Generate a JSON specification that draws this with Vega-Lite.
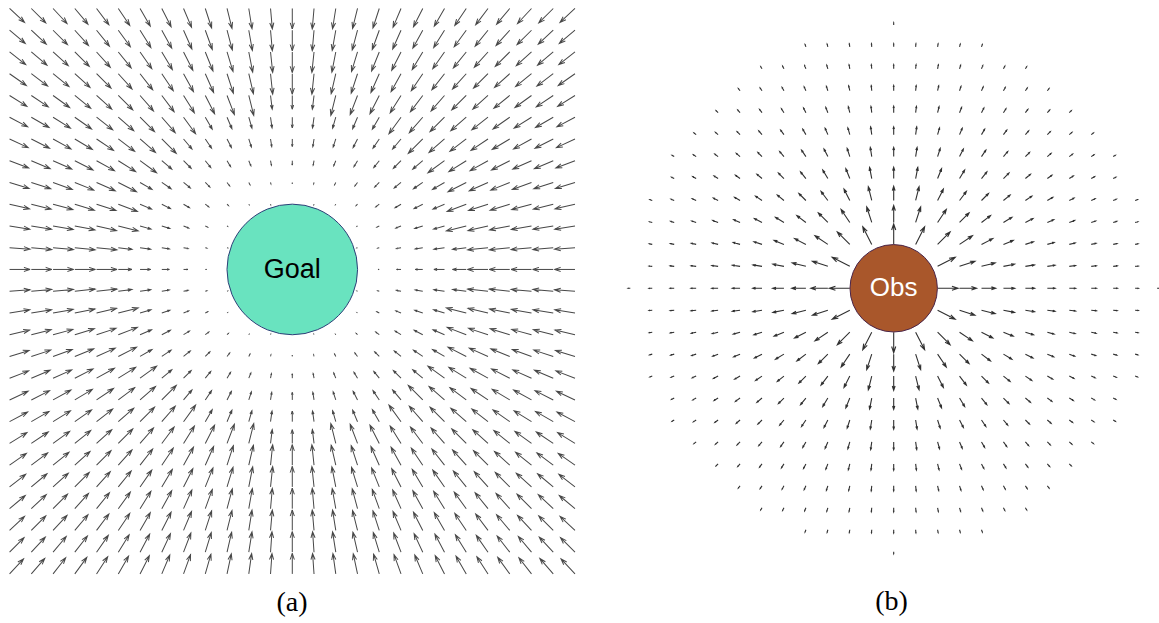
{
"$schema":"https://vega.github.io/schema/vega-lite/v6.json",
"padding":0,
"spacing":20,
"background":"white",
"config":{"view":{"stroke":null}},
"datasets":{
"g":[
{"x":-13,"y":-12,"a":43},{"x":-12,"y":-12,"a":45},{"x":-11,"y":-12,"a":47},{"x":-10,"y":-12,"a":50},{"x":-9,"y":-12,"a":53},{"x":-8,"y":-12,"a":56},{"x":-7,"y":-12,"a":60},{"x":-6,"y":-12,"a":63},{"x":-5,"y":-12,"a":67},{"x":-4,"y":-12,"a":72},{"x":-3,"y":-12,"a":76},{"x":-2,"y":-12,"a":81},{"x":-1,"y":-12,"a":85},{"x":0,"y":-12,"a":90},{"x":1,"y":-12,"a":95},{"x":2,"y":-12,"a":99},{"x":3,"y":-12,"a":104},{"x":4,"y":-12,"a":108},{"x":5,"y":-12,"a":113},{"x":6,"y":-12,"a":117},{"x":7,"y":-12,"a":120},{"x":8,"y":-12,"a":124},{"x":9,"y":-12,"a":127},{"x":10,"y":-12,"a":130},{"x":11,"y":-12,"a":133},{"x":12,"y":-12,"a":135},{"x":13,"y":-12,"a":137},
{"x":-13,"y":-11,"a":40},{"x":-12,"y":-11,"a":43},{"x":-11,"y":-11,"a":45},{"x":-10,"y":-11,"a":48},{"x":-9,"y":-11,"a":51},{"x":-8,"y":-11,"a":54},{"x":-7,"y":-11,"a":58},{"x":-6,"y":-11,"a":61},{"x":-5,"y":-11,"a":66},{"x":-4,"y":-11,"a":70},{"x":-3,"y":-11,"a":75},{"x":-2,"y":-11,"a":80},{"x":-1,"y":-11,"a":85},{"x":0,"y":-11,"a":90},{"x":1,"y":-11,"a":95},{"x":2,"y":-11,"a":100},{"x":3,"y":-11,"a":105},{"x":4,"y":-11,"a":110},{"x":5,"y":-11,"a":114},{"x":6,"y":-11,"a":119},{"x":7,"y":-11,"a":122},{"x":8,"y":-11,"a":126},{"x":9,"y":-11,"a":129},{"x":10,"y":-11,"a":132},{"x":11,"y":-11,"a":135},{"x":12,"y":-11,"a":137},{"x":13,"y":-11,"a":140},
{"x":-13,"y":-10,"a":38},{"x":-12,"y":-10,"a":40},{"x":-11,"y":-10,"a":42},{"x":-10,"y":-10,"a":45},{"x":-9,"y":-10,"a":48},{"x":-8,"y":-10,"a":51},{"x":-7,"y":-10,"a":55},{"x":-6,"y":-10,"a":59},{"x":-5,"y":-10,"a":63},{"x":-4,"y":-10,"a":68},{"x":-3,"y":-10,"a":73},{"x":-2,"y":-10,"a":79},{"x":-1,"y":-10,"a":84},{"x":0,"y":-10,"a":90},{"x":1,"y":-10,"a":96},{"x":2,"y":-10,"a":101},{"x":3,"y":-10,"a":107},{"x":4,"y":-10,"a":112},{"x":5,"y":-10,"a":117},{"x":6,"y":-10,"a":121},{"x":7,"y":-10,"a":125},{"x":8,"y":-10,"a":129},{"x":9,"y":-10,"a":132},{"x":10,"y":-10,"a":135},{"x":11,"y":-10,"a":138},{"x":12,"y":-10,"a":140},{"x":13,"y":-10,"a":142},
{"x":-13,"y":-9,"a":35},{"x":-12,"y":-9,"a":37},{"x":-11,"y":-9,"a":39},{"x":-10,"y":-9,"a":42},{"x":-9,"y":-9,"a":45},{"x":-8,"y":-9,"a":48},{"x":-7,"y":-9,"a":52},{"x":-6,"y":-9,"a":56},{"x":-5,"y":-9,"a":61},{"x":-4,"y":-9,"a":66},{"x":-3,"y":-9,"a":72},{"x":-2,"y":-9,"a":77},{"x":-1,"y":-9,"a":84},{"x":0,"y":-9,"a":90},{"x":1,"y":-9,"a":96},{"x":2,"y":-9,"a":103},{"x":3,"y":-9,"a":108},{"x":4,"y":-9,"a":114},{"x":5,"y":-9,"a":119},{"x":6,"y":-9,"a":124},{"x":7,"y":-9,"a":128},{"x":8,"y":-9,"a":132},{"x":9,"y":-9,"a":135},{"x":10,"y":-9,"a":138},{"x":11,"y":-9,"a":141},{"x":12,"y":-9,"a":143},{"x":13,"y":-9,"a":145},
{"x":-13,"y":-8,"a":32},{"x":-12,"y":-8,"a":34},{"x":-11,"y":-8,"a":36},{"x":-10,"y":-8,"a":39},{"x":-9,"y":-8,"a":42},{"x":-8,"y":-8,"a":45},{"x":-7,"y":-8,"a":49},{"x":-6,"y":-8,"a":53},{"x":-5,"y":-8,"a":58},{"x":-4,"y":-8,"a":63},{"x":-3,"y":-8,"a":69},{"x":-2,"y":-8,"a":76},{"x":-1,"y":-8,"a":83,"m":19.6},{"x":0,"y":-8,"a":90,"m":19.4},{"x":1,"y":-8,"a":97,"m":19.6},{"x":2,"y":-8,"a":104},{"x":3,"y":-8,"a":111},{"x":4,"y":-8,"a":117},{"x":5,"y":-8,"a":122},{"x":6,"y":-8,"a":127},{"x":7,"y":-8,"a":131},{"x":8,"y":-8,"a":135},{"x":9,"y":-8,"a":138},{"x":10,"y":-8,"a":141},{"x":11,"y":-8,"a":144},{"x":12,"y":-8,"a":146},{"x":13,"y":-8,"a":148},
{"x":-13,"y":-7,"a":28},{"x":-12,"y":-7,"a":30},{"x":-11,"y":-7,"a":32},{"x":-10,"y":-7,"a":35},{"x":-9,"y":-7,"a":38},{"x":-8,"y":-7,"a":41},{"x":-7,"y":-7,"a":45},{"x":-6,"y":-7,"a":49},{"x":-5,"y":-7,"a":54},{"x":-4,"y":-7,"a":60,"m":19.6},{"x":-3,"y":-7,"a":67,"m":17.7},{"x":-2,"y":-7,"a":74,"m":16.2},{"x":-1,"y":-7,"a":82,"m":15.3},{"x":0,"y":-7,"a":90,"m":15},{"x":1,"y":-7,"a":98,"m":15.3},{"x":2,"y":-7,"a":106,"m":16.2},{"x":3,"y":-7,"a":113,"m":17.7},{"x":4,"y":-7,"a":120,"m":19.6},{"x":5,"y":-7,"a":126},{"x":6,"y":-7,"a":131},{"x":7,"y":-7,"a":135},{"x":8,"y":-7,"a":139},{"x":9,"y":-7,"a":142},{"x":10,"y":-7,"a":145},{"x":11,"y":-7,"a":148},{"x":12,"y":-7,"a":150},{"x":13,"y":-7,"a":152},
{"x":-13,"y":-6,"a":25},{"x":-12,"y":-6,"a":27},{"x":-11,"y":-6,"a":29},{"x":-10,"y":-6,"a":31},{"x":-9,"y":-6,"a":34},{"x":-8,"y":-6,"a":37},{"x":-7,"y":-6,"a":41},{"x":-6,"y":-6,"a":45},{"x":-5,"y":-6,"a":50,"m":18.5},{"x":-4,"y":-6,"a":56,"m":15.9},{"x":-3,"y":-6,"a":63,"m":13.7},{"x":-2,"y":-6,"a":72,"m":12},{"x":-1,"y":-6,"a":81,"m":10.9},{"x":0,"y":-6,"a":90,"m":10.6},{"x":1,"y":-6,"a":99,"m":10.9},{"x":2,"y":-6,"a":108,"m":12},{"x":3,"y":-6,"a":117,"m":13.7},{"x":4,"y":-6,"a":124,"m":15.9},{"x":5,"y":-6,"a":130,"m":18.5},{"x":6,"y":-6,"a":135},{"x":7,"y":-6,"a":139},{"x":8,"y":-6,"a":143},{"x":9,"y":-6,"a":146},{"x":10,"y":-6,"a":149},{"x":11,"y":-6,"a":151},{"x":12,"y":-6,"a":153},{"x":13,"y":-6,"a":155},
{"x":-13,"y":-5,"a":21},{"x":-12,"y":-5,"a":23},{"x":-11,"y":-5,"a":24},{"x":-10,"y":-5,"a":27},{"x":-9,"y":-5,"a":29},{"x":-8,"y":-5,"a":32},{"x":-7,"y":-5,"a":36},{"x":-6,"y":-5,"a":40,"m":18.5},{"x":-5,"y":-5,"a":45,"m":15.3},{"x":-4,"y":-5,"a":51,"m":12.3},{"x":-3,"y":-5,"a":59,"m":9.8},{"x":-2,"y":-5,"a":68,"m":7.9},{"x":-1,"y":-5,"a":79,"m":6.6},{"x":0,"y":-5,"a":90,"m":6.2},{"x":1,"y":-5,"a":101,"m":6.6},{"x":2,"y":-5,"a":112,"m":7.9},{"x":3,"y":-5,"a":121,"m":9.8},{"x":4,"y":-5,"a":129,"m":12.3},{"x":5,"y":-5,"a":135,"m":15.3},{"x":6,"y":-5,"a":140,"m":18.5},{"x":7,"y":-5,"a":144},{"x":8,"y":-5,"a":148},{"x":9,"y":-5,"a":151},{"x":10,"y":-5,"a":153},{"x":11,"y":-5,"a":156},{"x":12,"y":-5,"a":157},{"x":13,"y":-5,"a":159},
{"x":-13,"y":-4,"a":17},{"x":-12,"y":-4,"a":18},{"x":-11,"y":-4,"a":20},{"x":-10,"y":-4,"a":22},{"x":-9,"y":-4,"a":24},{"x":-8,"y":-4,"a":27},{"x":-7,"y":-4,"a":30,"m":19.6},{"x":-6,"y":-4,"a":34,"m":15.9},{"x":-5,"y":-4,"a":39,"m":12.3},{"x":-4,"y":-4,"a":45,"m":9.1},{"x":-3,"y":-4,"a":53,"m":6.2},{"x":-2,"y":-4,"a":63,"m":3.8},{"x":-1,"y":-4,"a":76,"m":2.3},{"x":0,"y":-4,"a":90,"m":1.8},{"x":1,"y":-4,"a":104,"m":2.3},{"x":2,"y":-4,"a":117,"m":3.8},{"x":3,"y":-4,"a":127,"m":6.2},{"x":4,"y":-4,"a":135,"m":9.1},{"x":5,"y":-4,"a":141,"m":12.3},{"x":6,"y":-4,"a":146,"m":15.9},{"x":7,"y":-4,"a":150,"m":19.6},{"x":8,"y":-4,"a":153},{"x":9,"y":-4,"a":156},{"x":10,"y":-4,"a":158},{"x":11,"y":-4,"a":160},{"x":12,"y":-4,"a":162},{"x":13,"y":-4,"a":163},
{"x":-13,"y":-3,"a":13},{"x":-12,"y":-3,"a":14},{"x":-11,"y":-3,"a":15},{"x":-10,"y":-3,"a":17},{"x":-9,"y":-3,"a":18},{"x":-8,"y":-3,"a":21},{"x":-7,"y":-3,"a":23,"m":17.7},{"x":-6,"y":-3,"a":27,"m":13.7},{"x":-5,"y":-3,"a":31,"m":9.8},{"x":-4,"y":-3,"a":37,"m":6.2},{"x":-3,"y":-3,"a":45,"m":2.8},{"x":-2,"y":-3,"a":56,"m":0.8},{"x":-1,"y":-3,"a":72,"m":0.8},{"x":1,"y":-3,"a":108,"m":0.8},{"x":2,"y":-3,"a":124,"m":0.8},{"x":3,"y":-3,"a":135,"m":2.8},{"x":4,"y":-3,"a":143,"m":6.2},{"x":5,"y":-3,"a":149,"m":9.8},{"x":6,"y":-3,"a":153,"m":13.7},{"x":7,"y":-3,"a":157,"m":17.7},{"x":8,"y":-3,"a":159},{"x":9,"y":-3,"a":162},{"x":10,"y":-3,"a":163},{"x":11,"y":-3,"a":165},{"x":12,"y":-3,"a":166},{"x":13,"y":-3,"a":167},
{"x":-13,"y":-2,"a":9},{"x":-12,"y":-2,"a":9},{"x":-11,"y":-2,"a":10},{"x":-10,"y":-2,"a":11},{"x":-9,"y":-2,"a":13},{"x":-8,"y":-2,"a":14},{"x":-7,"y":-2,"a":16,"m":16.2},{"x":-6,"y":-2,"a":18,"m":12},{"x":-5,"y":-2,"a":22,"m":7.9},{"x":-4,"y":-2,"a":27,"m":3.8},{"x":-3,"y":-2,"a":34,"m":0.8},{"x":3,"y":-2,"a":146,"m":0.8},{"x":4,"y":-2,"a":153,"m":3.8},{"x":5,"y":-2,"a":158,"m":7.9},{"x":6,"y":-2,"a":162,"m":12},{"x":7,"y":-2,"a":164,"m":16.2},{"x":8,"y":-2,"a":166},{"x":9,"y":-2,"a":167},{"x":10,"y":-2,"a":169},{"x":11,"y":-2,"a":170},{"x":12,"y":-2,"a":171},{"x":13,"y":-2,"a":171},
{"x":-13,"y":-1,"a":4},{"x":-12,"y":-1,"a":5},{"x":-11,"y":-1,"a":5},{"x":-10,"y":-1,"a":6},{"x":-9,"y":-1,"a":6},{"x":-8,"y":-1,"a":7,"m":19.6},{"x":-7,"y":-1,"a":8,"m":15.3},{"x":-6,"y":-1,"a":9,"m":10.9},{"x":-5,"y":-1,"a":11,"m":6.6},{"x":-4,"y":-1,"a":14,"m":2.3},{"x":-3,"y":-1,"a":18,"m":0.8},{"x":3,"y":-1,"a":162,"m":0.8},{"x":4,"y":-1,"a":166,"m":2.3},{"x":5,"y":-1,"a":169,"m":6.6},{"x":6,"y":-1,"a":171,"m":10.9},{"x":7,"y":-1,"a":172,"m":15.3},{"x":8,"y":-1,"a":173,"m":19.6},{"x":9,"y":-1,"a":174},{"x":10,"y":-1,"a":174},{"x":11,"y":-1,"a":175},{"x":12,"y":-1,"a":175},{"x":13,"y":-1,"a":176},
{"x":-13,"y":0,"a":0},{"x":-12,"y":0,"a":0},{"x":-11,"y":0,"a":0},{"x":-10,"y":0,"a":0},{"x":-9,"y":0,"a":0},{"x":-8,"y":0,"a":0,"m":19.4},{"x":-7,"y":0,"a":0,"m":15},{"x":-6,"y":0,"a":0,"m":10.6},{"x":-5,"y":0,"a":0,"m":6.2},{"x":-4,"y":0,"a":0,"m":1.8},{"x":4,"y":0,"a":180,"m":1.8},{"x":5,"y":0,"a":180,"m":6.2},{"x":6,"y":0,"a":180,"m":10.6},{"x":7,"y":0,"a":180,"m":15},{"x":8,"y":0,"a":180,"m":19.4},{"x":9,"y":0,"a":180},{"x":10,"y":0,"a":180},{"x":11,"y":0,"a":180},{"x":12,"y":0,"a":180},{"x":13,"y":0,"a":180},
{"x":-13,"y":1,"a":-4},{"x":-12,"y":1,"a":-5},{"x":-11,"y":1,"a":-5},{"x":-10,"y":1,"a":-6},{"x":-9,"y":1,"a":-6},{"x":-8,"y":1,"a":-7,"m":19.6},{"x":-7,"y":1,"a":-8,"m":15.3},{"x":-6,"y":1,"a":-9,"m":10.9},{"x":-5,"y":1,"a":-11,"m":6.6},{"x":-4,"y":1,"a":-14,"m":2.3},{"x":-3,"y":1,"a":-18,"m":0.8},{"x":3,"y":1,"a":198,"m":0.8},{"x":4,"y":1,"a":194,"m":2.3},{"x":5,"y":1,"a":191,"m":6.6},{"x":6,"y":1,"a":189,"m":10.9},{"x":7,"y":1,"a":188,"m":15.3},{"x":8,"y":1,"a":187,"m":19.6},{"x":9,"y":1,"a":186},{"x":10,"y":1,"a":186},{"x":11,"y":1,"a":185},{"x":12,"y":1,"a":185},{"x":13,"y":1,"a":184},
{"x":-13,"y":2,"a":-9},{"x":-12,"y":2,"a":-9},{"x":-11,"y":2,"a":-10},{"x":-10,"y":2,"a":-11},{"x":-9,"y":2,"a":-13},{"x":-8,"y":2,"a":-14},{"x":-7,"y":2,"a":-16,"m":16.2},{"x":-6,"y":2,"a":-18,"m":12},{"x":-5,"y":2,"a":-22,"m":7.9},{"x":-4,"y":2,"a":-27,"m":3.8},{"x":-3,"y":2,"a":-34,"m":0.8},{"x":3,"y":2,"a":214,"m":0.8},{"x":4,"y":2,"a":207,"m":3.8},{"x":5,"y":2,"a":202,"m":7.9},{"x":6,"y":2,"a":198,"m":12},{"x":7,"y":2,"a":196,"m":16.2},{"x":8,"y":2,"a":194},{"x":9,"y":2,"a":193},{"x":10,"y":2,"a":191},{"x":11,"y":2,"a":190},{"x":12,"y":2,"a":189},{"x":13,"y":2,"a":189},
{"x":-13,"y":3,"a":-13},{"x":-12,"y":3,"a":-14},{"x":-11,"y":3,"a":-15},{"x":-10,"y":3,"a":-17},{"x":-9,"y":3,"a":-18},{"x":-8,"y":3,"a":-21},{"x":-7,"y":3,"a":-23,"m":17.7},{"x":-6,"y":3,"a":-27,"m":13.7},{"x":-5,"y":3,"a":-31,"m":9.8},{"x":-4,"y":3,"a":-37,"m":6.2},{"x":-3,"y":3,"a":-45,"m":2.8},{"x":-2,"y":3,"a":-56,"m":0.8},{"x":-1,"y":3,"a":-72,"m":0.8},{"x":1,"y":3,"a":252,"m":0.8},{"x":2,"y":3,"a":236,"m":0.8},{"x":3,"y":3,"a":225,"m":2.8},{"x":4,"y":3,"a":217,"m":6.2},{"x":5,"y":3,"a":211,"m":9.8},{"x":6,"y":3,"a":207,"m":13.7},{"x":7,"y":3,"a":203,"m":17.7},{"x":8,"y":3,"a":201},{"x":9,"y":3,"a":198},{"x":10,"y":3,"a":197},{"x":11,"y":3,"a":195},{"x":12,"y":3,"a":194},{"x":13,"y":3,"a":193},
{"x":-13,"y":4,"a":-17},{"x":-12,"y":4,"a":-18},{"x":-11,"y":4,"a":-20},{"x":-10,"y":4,"a":-22},{"x":-9,"y":4,"a":-24},{"x":-8,"y":4,"a":-27},{"x":-7,"y":4,"a":-30,"m":19.6},{"x":-6,"y":4,"a":-34,"m":15.9},{"x":-5,"y":4,"a":-39,"m":12.3},{"x":-4,"y":4,"a":-45,"m":9.1},{"x":-3,"y":4,"a":-53,"m":6.2},{"x":-2,"y":4,"a":-63,"m":3.8},{"x":-1,"y":4,"a":-76,"m":2.3},{"x":0,"y":4,"a":-90,"m":1.8},{"x":1,"y":4,"a":256,"m":2.3},{"x":2,"y":4,"a":243,"m":3.8},{"x":3,"y":4,"a":233,"m":6.2},{"x":4,"y":4,"a":225,"m":9.1},{"x":5,"y":4,"a":219,"m":12.3},{"x":6,"y":4,"a":214,"m":15.9},{"x":7,"y":4,"a":210,"m":19.6},{"x":8,"y":4,"a":207},{"x":9,"y":4,"a":204},{"x":10,"y":4,"a":202},{"x":11,"y":4,"a":200},{"x":12,"y":4,"a":198},{"x":13,"y":4,"a":197},
{"x":-13,"y":5,"a":-21},{"x":-12,"y":5,"a":-23},{"x":-11,"y":5,"a":-24},{"x":-10,"y":5,"a":-27},{"x":-9,"y":5,"a":-29},{"x":-8,"y":5,"a":-32},{"x":-7,"y":5,"a":-36},{"x":-6,"y":5,"a":-40,"m":18.5},{"x":-5,"y":5,"a":-45,"m":15.3},{"x":-4,"y":5,"a":-51,"m":12.3},{"x":-3,"y":5,"a":-59,"m":9.8},{"x":-2,"y":5,"a":-68,"m":7.9},{"x":-1,"y":5,"a":-79,"m":6.6},{"x":0,"y":5,"a":-90,"m":6.2},{"x":1,"y":5,"a":259,"m":6.6},{"x":2,"y":5,"a":248,"m":7.9},{"x":3,"y":5,"a":239,"m":9.8},{"x":4,"y":5,"a":231,"m":12.3},{"x":5,"y":5,"a":225,"m":15.3},{"x":6,"y":5,"a":220,"m":18.5},{"x":7,"y":5,"a":216},{"x":8,"y":5,"a":212},{"x":9,"y":5,"a":209},{"x":10,"y":5,"a":207},{"x":11,"y":5,"a":204},{"x":12,"y":5,"a":203},{"x":13,"y":5,"a":201},
{"x":-13,"y":6,"a":-25},{"x":-12,"y":6,"a":-27},{"x":-11,"y":6,"a":-29},{"x":-10,"y":6,"a":-31},{"x":-9,"y":6,"a":-34},{"x":-8,"y":6,"a":-37},{"x":-7,"y":6,"a":-41},{"x":-6,"y":6,"a":-45},{"x":-5,"y":6,"a":-50,"m":18.5},{"x":-4,"y":6,"a":-56,"m":15.9},{"x":-3,"y":6,"a":-63,"m":13.7},{"x":-2,"y":6,"a":-72,"m":12},{"x":-1,"y":6,"a":-81,"m":10.9},{"x":0,"y":6,"a":-90,"m":10.6},{"x":1,"y":6,"a":261,"m":10.9},{"x":2,"y":6,"a":252,"m":12},{"x":3,"y":6,"a":243,"m":13.7},{"x":4,"y":6,"a":236,"m":15.9},{"x":5,"y":6,"a":230,"m":18.5},{"x":6,"y":6,"a":225},{"x":7,"y":6,"a":221},{"x":8,"y":6,"a":217},{"x":9,"y":6,"a":214},{"x":10,"y":6,"a":211},{"x":11,"y":6,"a":209},{"x":12,"y":6,"a":207},{"x":13,"y":6,"a":205},
{"x":-13,"y":7,"a":-28},{"x":-12,"y":7,"a":-30},{"x":-11,"y":7,"a":-32},{"x":-10,"y":7,"a":-35},{"x":-9,"y":7,"a":-38},{"x":-8,"y":7,"a":-41},{"x":-7,"y":7,"a":-45},{"x":-6,"y":7,"a":-49},{"x":-5,"y":7,"a":-54},{"x":-4,"y":7,"a":-60,"m":19.6},{"x":-3,"y":7,"a":-67,"m":17.7},{"x":-2,"y":7,"a":-74,"m":16.2},{"x":-1,"y":7,"a":-82,"m":15.3},{"x":0,"y":7,"a":-90,"m":15},{"x":1,"y":7,"a":262,"m":15.3},{"x":2,"y":7,"a":254,"m":16.2},{"x":3,"y":7,"a":247,"m":17.7},{"x":4,"y":7,"a":240,"m":19.6},{"x":5,"y":7,"a":234},{"x":6,"y":7,"a":229},{"x":7,"y":7,"a":225},{"x":8,"y":7,"a":221},{"x":9,"y":7,"a":218},{"x":10,"y":7,"a":215},{"x":11,"y":7,"a":212},{"x":12,"y":7,"a":210},{"x":13,"y":7,"a":208},
{"x":-13,"y":8,"a":-32},{"x":-12,"y":8,"a":-34},{"x":-11,"y":8,"a":-36},{"x":-10,"y":8,"a":-39},{"x":-9,"y":8,"a":-42},{"x":-8,"y":8,"a":-45},{"x":-7,"y":8,"a":-49},{"x":-6,"y":8,"a":-53},{"x":-5,"y":8,"a":-58},{"x":-4,"y":8,"a":-63},{"x":-3,"y":8,"a":-69},{"x":-2,"y":8,"a":-76},{"x":-1,"y":8,"a":-83,"m":19.6},{"x":0,"y":8,"a":-90,"m":19.4},{"x":1,"y":8,"a":263,"m":19.6},{"x":2,"y":8,"a":256},{"x":3,"y":8,"a":249},{"x":4,"y":8,"a":243},{"x":5,"y":8,"a":238},{"x":6,"y":8,"a":233},{"x":7,"y":8,"a":229},{"x":8,"y":8,"a":225},{"x":9,"y":8,"a":222},{"x":10,"y":8,"a":219},{"x":11,"y":8,"a":216},{"x":12,"y":8,"a":214},{"x":13,"y":8,"a":212},
{"x":-13,"y":9,"a":-35},{"x":-12,"y":9,"a":-37},{"x":-11,"y":9,"a":-39},{"x":-10,"y":9,"a":-42},{"x":-9,"y":9,"a":-45},{"x":-8,"y":9,"a":-48},{"x":-7,"y":9,"a":-52},{"x":-6,"y":9,"a":-56},{"x":-5,"y":9,"a":-61},{"x":-4,"y":9,"a":-66},{"x":-3,"y":9,"a":-72},{"x":-2,"y":9,"a":-77},{"x":-1,"y":9,"a":-84},{"x":0,"y":9,"a":-90},{"x":1,"y":9,"a":264},{"x":2,"y":9,"a":257},{"x":3,"y":9,"a":252},{"x":4,"y":9,"a":246},{"x":5,"y":9,"a":241},{"x":6,"y":9,"a":236},{"x":7,"y":9,"a":232},{"x":8,"y":9,"a":228},{"x":9,"y":9,"a":225},{"x":10,"y":9,"a":222},{"x":11,"y":9,"a":219},{"x":12,"y":9,"a":217},{"x":13,"y":9,"a":215},
{"x":-13,"y":10,"a":-38},{"x":-12,"y":10,"a":-40},{"x":-11,"y":10,"a":-42},{"x":-10,"y":10,"a":-45},{"x":-9,"y":10,"a":-48},{"x":-8,"y":10,"a":-51},{"x":-7,"y":10,"a":-55},{"x":-6,"y":10,"a":-59},{"x":-5,"y":10,"a":-63},{"x":-4,"y":10,"a":-68},{"x":-3,"y":10,"a":-73},{"x":-2,"y":10,"a":-79},{"x":-1,"y":10,"a":-84},{"x":0,"y":10,"a":-90},{"x":1,"y":10,"a":264},{"x":2,"y":10,"a":259},{"x":3,"y":10,"a":253},{"x":4,"y":10,"a":248},{"x":5,"y":10,"a":243},{"x":6,"y":10,"a":239},{"x":7,"y":10,"a":235},{"x":8,"y":10,"a":231},{"x":9,"y":10,"a":228},{"x":10,"y":10,"a":225},{"x":11,"y":10,"a":222},{"x":12,"y":10,"a":220},{"x":13,"y":10,"a":218},
{"x":-13,"y":11,"a":-40},{"x":-12,"y":11,"a":-43},{"x":-11,"y":11,"a":-45},{"x":-10,"y":11,"a":-48},{"x":-9,"y":11,"a":-51},{"x":-8,"y":11,"a":-54},{"x":-7,"y":11,"a":-58},{"x":-6,"y":11,"a":-61},{"x":-5,"y":11,"a":-66},{"x":-4,"y":11,"a":-70},{"x":-3,"y":11,"a":-75},{"x":-2,"y":11,"a":-80},{"x":-1,"y":11,"a":-85},{"x":0,"y":11,"a":-90},{"x":1,"y":11,"a":265},{"x":2,"y":11,"a":260},{"x":3,"y":11,"a":255},{"x":4,"y":11,"a":250},{"x":5,"y":11,"a":246},{"x":6,"y":11,"a":241},{"x":7,"y":11,"a":238},{"x":8,"y":11,"a":234},{"x":9,"y":11,"a":231},{"x":10,"y":11,"a":228},{"x":11,"y":11,"a":225},{"x":12,"y":11,"a":223},{"x":13,"y":11,"a":220},
{"x":-13,"y":12,"a":-43},{"x":-12,"y":12,"a":-45},{"x":-11,"y":12,"a":-47},{"x":-10,"y":12,"a":-50},{"x":-9,"y":12,"a":-53},{"x":-8,"y":12,"a":-56},{"x":-7,"y":12,"a":-60},{"x":-6,"y":12,"a":-63},{"x":-5,"y":12,"a":-67},{"x":-4,"y":12,"a":-72},{"x":-3,"y":12,"a":-76},{"x":-2,"y":12,"a":-81},{"x":-1,"y":12,"a":-85},{"x":0,"y":12,"a":-90},{"x":1,"y":12,"a":265},{"x":2,"y":12,"a":261},{"x":3,"y":12,"a":256},{"x":4,"y":12,"a":252},{"x":5,"y":12,"a":247},{"x":6,"y":12,"a":243},{"x":7,"y":12,"a":240},{"x":8,"y":12,"a":236},{"x":9,"y":12,"a":233},{"x":10,"y":12,"a":230},{"x":11,"y":12,"a":227},{"x":12,"y":12,"a":225},{"x":13,"y":12,"a":223},
{"x":-13,"y":13,"a":-45},{"x":-12,"y":13,"a":-47},{"x":-11,"y":13,"a":-50},{"x":-10,"y":13,"a":-52},{"x":-9,"y":13,"a":-55},{"x":-8,"y":13,"a":-58},{"x":-7,"y":13,"a":-62},{"x":-6,"y":13,"a":-65},{"x":-5,"y":13,"a":-69},{"x":-4,"y":13,"a":-73},{"x":-3,"y":13,"a":-77},{"x":-2,"y":13,"a":-81},{"x":-1,"y":13,"a":-86},{"x":0,"y":13,"a":-90},{"x":1,"y":13,"a":266},{"x":2,"y":13,"a":261},{"x":3,"y":13,"a":257},{"x":4,"y":13,"a":253},{"x":5,"y":13,"a":249},{"x":6,"y":13,"a":245},{"x":7,"y":13,"a":242},{"x":8,"y":13,"a":238},{"x":9,"y":13,"a":235},{"x":10,"y":13,"a":232},{"x":11,"y":13,"a":230},{"x":12,"y":13,"a":227},{"x":13,"y":13,"a":225},
{"x":-13,"y":14,"a":-47},{"x":-12,"y":14,"a":-49},{"x":-11,"y":14,"a":-52},{"x":-10,"y":14,"a":-54},{"x":-9,"y":14,"a":-57},{"x":-8,"y":14,"a":-60},{"x":-7,"y":14,"a":-63},{"x":-6,"y":14,"a":-67},{"x":-5,"y":14,"a":-70},{"x":-4,"y":14,"a":-74},{"x":-3,"y":14,"a":-78},{"x":-2,"y":14,"a":-82},{"x":-1,"y":14,"a":-86},{"x":0,"y":14,"a":-90},{"x":1,"y":14,"a":266},{"x":2,"y":14,"a":262},{"x":3,"y":14,"a":258},{"x":4,"y":14,"a":254},{"x":5,"y":14,"a":250},{"x":6,"y":14,"a":247},{"x":7,"y":14,"a":243},{"x":8,"y":14,"a":240},{"x":9,"y":14,"a":237},{"x":10,"y":14,"a":234},{"x":11,"y":14,"a":232},{"x":12,"y":14,"a":229},{"x":13,"y":14,"a":227}
],
"o":[
{"x":0,"y":-12,"a":-90,"m":3},
{"x":-4,"y":-11,"a":250,"m":3.5},{"x":-3,"y":-11,"a":255,"m":3.9},{"x":-2,"y":-11,"a":260,"m":4.2},{"x":-1,"y":-11,"a":265,"m":4.4},{"x":0,"y":-11,"a":-90,"m":4.5},{"x":1,"y":-11,"a":-85,"m":4.4},{"x":2,"y":-11,"a":-80,"m":4.2},{"x":3,"y":-11,"a":-75,"m":3.9},{"x":4,"y":-11,"a":-70,"m":3.5},
{"x":-6,"y":-10,"a":239,"m":3.5},{"x":-5,"y":-10,"a":243,"m":4.2},{"x":-4,"y":-10,"a":248,"m":4.8},{"x":-3,"y":-10,"a":253,"m":5.2},{"x":-2,"y":-10,"a":259,"m":5.5},{"x":-1,"y":-10,"a":264,"m":5.7},{"x":0,"y":-10,"a":-90,"m":5.8},{"x":1,"y":-10,"a":-84,"m":5.7},{"x":2,"y":-10,"a":-79,"m":5.5},{"x":3,"y":-10,"a":-73,"m":5.2},{"x":4,"y":-10,"a":-68,"m":4.8},{"x":5,"y":-10,"a":-63,"m":4.2},{"x":6,"y":-10,"a":-59,"m":3.5},
{"x":-7,"y":-9,"a":232,"m":3.9},{"x":-6,"y":-9,"a":236,"m":4.7},{"x":-5,"y":-9,"a":241,"m":5.4},{"x":-4,"y":-9,"a":246,"m":6},{"x":-3,"y":-9,"a":252,"m":6.6},{"x":-2,"y":-9,"a":257,"m":7},{"x":-1,"y":-9,"a":264,"m":7.2},{"x":0,"y":-9,"a":-90,"m":7.3},{"x":1,"y":-9,"a":-84,"m":7.2},{"x":2,"y":-9,"a":-77,"m":7},{"x":3,"y":-9,"a":-72,"m":6.6},{"x":4,"y":-9,"a":-66,"m":6},{"x":5,"y":-9,"a":-61,"m":5.4},{"x":6,"y":-9,"a":-56,"m":4.7},{"x":7,"y":-9,"a":-52,"m":3.9},
{"x":-8,"y":-8,"a":225,"m":4},{"x":-7,"y":-8,"a":229,"m":5},{"x":-6,"y":-8,"a":233,"m":5.8},{"x":-5,"y":-8,"a":238,"m":6.7},{"x":-4,"y":-8,"a":243,"m":7.4},{"x":-3,"y":-8,"a":249,"m":8.1},{"x":-2,"y":-8,"a":256,"m":8.6},{"x":-1,"y":-8,"a":263,"m":8.9},{"x":0,"y":-8,"a":-90,"m":9},{"x":1,"y":-8,"a":-83,"m":8.9},{"x":2,"y":-8,"a":-76,"m":8.6},{"x":3,"y":-8,"a":-69,"m":8.1},{"x":4,"y":-8,"a":-63,"m":7.4},{"x":5,"y":-8,"a":-58,"m":6.7},{"x":6,"y":-8,"a":-53,"m":5.8},{"x":7,"y":-8,"a":-49,"m":5},{"x":8,"y":-8,"a":-45,"m":4},
{"x":-9,"y":-7,"a":218,"m":3.9},{"x":-8,"y":-7,"a":221,"m":5},{"x":-7,"y":-7,"a":225,"m":6},{"x":-6,"y":-7,"a":229,"m":7},{"x":-5,"y":-7,"a":234,"m":8},{"x":-4,"y":-7,"a":240,"m":8.9},{"x":-3,"y":-7,"a":247,"m":9.8},{"x":-2,"y":-7,"a":254,"m":10},{"x":-1,"y":-7,"a":262,"m":11},{"x":0,"y":-7,"a":-90,"m":11},{"x":1,"y":-7,"a":-82,"m":11},{"x":2,"y":-7,"a":-74,"m":10},{"x":3,"y":-7,"a":-67,"m":9.8},{"x":4,"y":-7,"a":-60,"m":8.9},{"x":5,"y":-7,"a":-54,"m":8},{"x":6,"y":-7,"a":-49,"m":7},{"x":7,"y":-7,"a":-45,"m":6},{"x":8,"y":-7,"a":-41,"m":5},{"x":9,"y":-7,"a":-38,"m":3.9},
{"x":-10,"y":-6,"a":211,"m":3.5},{"x":-9,"y":-6,"a":214,"m":4.7},{"x":-8,"y":-6,"a":217,"m":5.8},{"x":-7,"y":-6,"a":221,"m":7},{"x":-6,"y":-6,"a":225,"m":8.2},{"x":-5,"y":-6,"a":230,"m":9.4},{"x":-4,"y":-6,"a":236,"m":11},{"x":-3,"y":-6,"a":243,"m":12},{"x":-2,"y":-6,"a":252,"m":12},{"x":-1,"y":-6,"a":261,"m":13},{"x":0,"y":-6,"a":-90,"m":13},{"x":1,"y":-6,"a":-81,"m":13},{"x":2,"y":-6,"a":-72,"m":12},{"x":3,"y":-6,"a":-63,"m":12},{"x":4,"y":-6,"a":-56,"m":11},{"x":5,"y":-6,"a":-50,"m":9.4},{"x":6,"y":-6,"a":-45,"m":8.2},{"x":7,"y":-6,"a":-41,"m":7},{"x":8,"y":-6,"a":-37,"m":5.8},{"x":9,"y":-6,"a":-34,"m":4.7},{"x":10,"y":-6,"a":-31,"m":3.5},
{"x":-10,"y":-5,"a":207,"m":4.2},{"x":-9,"y":-5,"a":209,"m":5.4},{"x":-8,"y":-5,"a":212,"m":6.7},{"x":-7,"y":-5,"a":216,"m":8},{"x":-6,"y":-5,"a":220,"m":9.4},{"x":-5,"y":-5,"a":225,"m":11},{"x":-4,"y":-5,"a":231,"m":12},{"x":-3,"y":-5,"a":239,"m":14},{"x":-2,"y":-5,"a":248,"m":15},{"x":-1,"y":-5,"a":259,"m":16},{"x":0,"y":-5,"a":-90,"m":16},{"x":1,"y":-5,"a":-79,"m":16},{"x":2,"y":-5,"a":-68,"m":15},{"x":3,"y":-5,"a":-59,"m":14},{"x":4,"y":-5,"a":-51,"m":12},{"x":5,"y":-5,"a":-45,"m":11},{"x":6,"y":-5,"a":-40,"m":9.4},{"x":7,"y":-5,"a":-36,"m":8},{"x":8,"y":-5,"a":-32,"m":6.7},{"x":9,"y":-5,"a":-29,"m":5.4},{"x":10,"y":-5,"a":-27,"m":4.2},
{"x":-11,"y":-4,"a":200,"m":3.5},{"x":-10,"y":-4,"a":202,"m":4.8},{"x":-9,"y":-4,"a":204,"m":6},{"x":-8,"y":-4,"a":207,"m":7.4},{"x":-7,"y":-4,"a":210,"m":8.9},{"x":-6,"y":-4,"a":214,"m":11},{"x":-5,"y":-4,"a":219,"m":12},{"x":-4,"y":-4,"a":225,"m":14},{"x":-3,"y":-4,"a":233,"m":16},{"x":-2,"y":-4,"a":243,"m":18},{"x":-1,"y":-4,"a":256,"m":20},{"x":0,"y":-4,"a":-90,"m":20},{"x":1,"y":-4,"a":-76,"m":20},{"x":2,"y":-4,"a":-63,"m":18},{"x":3,"y":-4,"a":-53,"m":16},{"x":4,"y":-4,"a":-45,"m":14},{"x":5,"y":-4,"a":-39,"m":12},{"x":6,"y":-4,"a":-34,"m":11},{"x":7,"y":-4,"a":-30,"m":8.9},{"x":8,"y":-4,"a":-27,"m":7.4},{"x":9,"y":-4,"a":-24,"m":6},{"x":10,"y":-4,"a":-22,"m":4.8},{"x":11,"y":-4,"a":-20,"m":3.5},
{"x":-11,"y":-3,"a":195,"m":3.9},{"x":-10,"y":-3,"a":197,"m":5.2},{"x":-9,"y":-3,"a":198,"m":6.6},{"x":-8,"y":-3,"a":201,"m":8.1},{"x":-7,"y":-3,"a":203,"m":9.8},{"x":-6,"y":-3,"a":207,"m":12},{"x":-5,"y":-3,"a":211,"m":14},{"x":-4,"y":-3,"a":217,"m":16},{"x":-3,"y":-3,"a":225,"m":19},{"x":-2,"y":-3,"a":236,"m":22},{"x":-1,"y":-3,"a":252,"m":23},{"x":0,"y":-3,"a":-90,"m":24},{"x":1,"y":-3,"a":-72,"m":23},{"x":2,"y":-3,"a":-56,"m":22},{"x":3,"y":-3,"a":-45,"m":19},{"x":4,"y":-3,"a":-37,"m":16},{"x":5,"y":-3,"a":-31,"m":14},{"x":6,"y":-3,"a":-27,"m":12},{"x":7,"y":-3,"a":-23,"m":9.8},{"x":8,"y":-3,"a":-21,"m":8.1},{"x":9,"y":-3,"a":-18,"m":6.6},{"x":10,"y":-3,"a":-17,"m":5.2},{"x":11,"y":-3,"a":-15,"m":3.9},
{"x":-11,"y":-2,"a":190,"m":4.2},{"x":-10,"y":-2,"a":191,"m":5.5},{"x":-9,"y":-2,"a":193,"m":7},{"x":-8,"y":-2,"a":194,"m":8.6},{"x":-7,"y":-2,"a":196,"m":10},{"x":-6,"y":-2,"a":198,"m":12},{"x":-5,"y":-2,"a":202,"m":15},{"x":-4,"y":-2,"a":207,"m":18},{"x":-3,"y":-2,"a":214,"m":22},{"x":-2,"y":-2,"a":225,"m":25},{"x":-1,"y":-2,"a":243,"m":28},{"x":0,"y":-2,"a":-90,"m":29},{"x":1,"y":-2,"a":-63,"m":28},{"x":2,"y":-2,"a":-45,"m":25},{"x":3,"y":-2,"a":-34,"m":22},{"x":4,"y":-2,"a":-27,"m":18},{"x":5,"y":-2,"a":-22,"m":15},{"x":6,"y":-2,"a":-18,"m":12},{"x":7,"y":-2,"a":-16,"m":10},{"x":8,"y":-2,"a":-14,"m":8.6},{"x":9,"y":-2,"a":-13,"m":7},{"x":10,"y":-2,"a":-11,"m":5.5},{"x":11,"y":-2,"a":-10,"m":4.2},
{"x":-11,"y":-1,"a":185,"m":4.4},{"x":-10,"y":-1,"a":186,"m":5.7},{"x":-9,"y":-1,"a":186,"m":7.2},{"x":-8,"y":-1,"a":187,"m":8.9},{"x":-7,"y":-1,"a":188,"m":11},{"x":-6,"y":-1,"a":189,"m":13},{"x":-5,"y":-1,"a":191,"m":16},{"x":-4,"y":-1,"a":194,"m":20},{"x":-3,"y":-1,"a":198,"m":23},{"x":-2,"y":-1,"a":207,"m":28},{"x":2,"y":-1,"a":-27,"m":28},{"x":3,"y":-1,"a":-18,"m":23},{"x":4,"y":-1,"a":-14,"m":20},{"x":5,"y":-1,"a":-11,"m":16},{"x":6,"y":-1,"a":-9,"m":13},{"x":7,"y":-1,"a":-8,"m":11},{"x":8,"y":-1,"a":-7,"m":8.9},{"x":9,"y":-1,"a":-6,"m":7.2},{"x":10,"y":-1,"a":-6,"m":5.7},{"x":11,"y":-1,"a":-5,"m":4.4},
{"x":-12,"y":0,"a":180,"m":3},{"x":-11,"y":0,"a":180,"m":4.5},{"x":-10,"y":0,"a":180,"m":5.8},{"x":-9,"y":0,"a":180,"m":7.3},{"x":-8,"y":0,"a":180,"m":9},{"x":-7,"y":0,"a":180,"m":11},{"x":-6,"y":0,"a":180,"m":13},{"x":-5,"y":0,"a":180,"m":16},{"x":-4,"y":0,"a":180,"m":20},{"x":-3,"y":0,"a":180,"m":24},{"x":-2,"y":0,"a":180,"m":29},{"x":2,"y":0,"a":0,"m":29},{"x":3,"y":0,"a":0,"m":24},{"x":4,"y":0,"a":0,"m":20},{"x":5,"y":0,"a":0,"m":16},{"x":6,"y":0,"a":0,"m":13},{"x":7,"y":0,"a":0,"m":11},{"x":8,"y":0,"a":0,"m":9},{"x":9,"y":0,"a":0,"m":7.3},{"x":10,"y":0,"a":0,"m":5.8},{"x":11,"y":0,"a":0,"m":4.5},{"x":12,"y":0,"a":0,"m":3},
{"x":-11,"y":1,"a":175,"m":4.4},{"x":-10,"y":1,"a":174,"m":5.7},{"x":-9,"y":1,"a":174,"m":7.2},{"x":-8,"y":1,"a":173,"m":8.9},{"x":-7,"y":1,"a":172,"m":11},{"x":-6,"y":1,"a":171,"m":13},{"x":-5,"y":1,"a":169,"m":16},{"x":-4,"y":1,"a":166,"m":20},{"x":-3,"y":1,"a":162,"m":23},{"x":-2,"y":1,"a":153,"m":28},{"x":2,"y":1,"a":27,"m":28},{"x":3,"y":1,"a":18,"m":23},{"x":4,"y":1,"a":14,"m":20},{"x":5,"y":1,"a":11,"m":16},{"x":6,"y":1,"a":9,"m":13},{"x":7,"y":1,"a":8,"m":11},{"x":8,"y":1,"a":7,"m":8.9},{"x":9,"y":1,"a":6,"m":7.2},{"x":10,"y":1,"a":6,"m":5.7},{"x":11,"y":1,"a":5,"m":4.4},
{"x":-11,"y":2,"a":170,"m":4.2},{"x":-10,"y":2,"a":169,"m":5.5},{"x":-9,"y":2,"a":167,"m":7},{"x":-8,"y":2,"a":166,"m":8.6},{"x":-7,"y":2,"a":164,"m":10},{"x":-6,"y":2,"a":162,"m":12},{"x":-5,"y":2,"a":158,"m":15},{"x":-4,"y":2,"a":153,"m":18},{"x":-3,"y":2,"a":146,"m":22},{"x":-2,"y":2,"a":135,"m":25},{"x":-1,"y":2,"a":117,"m":28},{"x":0,"y":2,"a":90,"m":29},{"x":1,"y":2,"a":63,"m":28},{"x":2,"y":2,"a":45,"m":25},{"x":3,"y":2,"a":34,"m":22},{"x":4,"y":2,"a":27,"m":18},{"x":5,"y":2,"a":22,"m":15},{"x":6,"y":2,"a":18,"m":12},{"x":7,"y":2,"a":16,"m":10},{"x":8,"y":2,"a":14,"m":8.6},{"x":9,"y":2,"a":13,"m":7},{"x":10,"y":2,"a":11,"m":5.5},{"x":11,"y":2,"a":10,"m":4.2},
{"x":-11,"y":3,"a":165,"m":3.9},{"x":-10,"y":3,"a":163,"m":5.2},{"x":-9,"y":3,"a":162,"m":6.6},{"x":-8,"y":3,"a":159,"m":8.1},{"x":-7,"y":3,"a":157,"m":9.8},{"x":-6,"y":3,"a":153,"m":12},{"x":-5,"y":3,"a":149,"m":14},{"x":-4,"y":3,"a":143,"m":16},{"x":-3,"y":3,"a":135,"m":19},{"x":-2,"y":3,"a":124,"m":22},{"x":-1,"y":3,"a":108,"m":23},{"x":0,"y":3,"a":90,"m":24},{"x":1,"y":3,"a":72,"m":23},{"x":2,"y":3,"a":56,"m":22},{"x":3,"y":3,"a":45,"m":19},{"x":4,"y":3,"a":37,"m":16},{"x":5,"y":3,"a":31,"m":14},{"x":6,"y":3,"a":27,"m":12},{"x":7,"y":3,"a":23,"m":9.8},{"x":8,"y":3,"a":21,"m":8.1},{"x":9,"y":3,"a":18,"m":6.6},{"x":10,"y":3,"a":17,"m":5.2},{"x":11,"y":3,"a":15,"m":3.9},
{"x":-11,"y":4,"a":160,"m":3.5},{"x":-10,"y":4,"a":158,"m":4.8},{"x":-9,"y":4,"a":156,"m":6},{"x":-8,"y":4,"a":153,"m":7.4},{"x":-7,"y":4,"a":150,"m":8.9},{"x":-6,"y":4,"a":146,"m":11},{"x":-5,"y":4,"a":141,"m":12},{"x":-4,"y":4,"a":135,"m":14},{"x":-3,"y":4,"a":127,"m":16},{"x":-2,"y":4,"a":117,"m":18},{"x":-1,"y":4,"a":104,"m":20},{"x":0,"y":4,"a":90,"m":20},{"x":1,"y":4,"a":76,"m":20},{"x":2,"y":4,"a":63,"m":18},{"x":3,"y":4,"a":53,"m":16},{"x":4,"y":4,"a":45,"m":14},{"x":5,"y":4,"a":39,"m":12},{"x":6,"y":4,"a":34,"m":11},{"x":7,"y":4,"a":30,"m":8.9},{"x":8,"y":4,"a":27,"m":7.4},{"x":9,"y":4,"a":24,"m":6},{"x":10,"y":4,"a":22,"m":4.8},{"x":11,"y":4,"a":20,"m":3.5},
{"x":-10,"y":5,"a":153,"m":4.2},{"x":-9,"y":5,"a":151,"m":5.4},{"x":-8,"y":5,"a":148,"m":6.7},{"x":-7,"y":5,"a":144,"m":8},{"x":-6,"y":5,"a":140,"m":9.4},{"x":-5,"y":5,"a":135,"m":11},{"x":-4,"y":5,"a":129,"m":12},{"x":-3,"y":5,"a":121,"m":14},{"x":-2,"y":5,"a":112,"m":15},{"x":-1,"y":5,"a":101,"m":16},{"x":0,"y":5,"a":90,"m":16},{"x":1,"y":5,"a":79,"m":16},{"x":2,"y":5,"a":68,"m":15},{"x":3,"y":5,"a":59,"m":14},{"x":4,"y":5,"a":51,"m":12},{"x":5,"y":5,"a":45,"m":11},{"x":6,"y":5,"a":40,"m":9.4},{"x":7,"y":5,"a":36,"m":8},{"x":8,"y":5,"a":32,"m":6.7},{"x":9,"y":5,"a":29,"m":5.4},{"x":10,"y":5,"a":27,"m":4.2},
{"x":-10,"y":6,"a":149,"m":3.5},{"x":-9,"y":6,"a":146,"m":4.7},{"x":-8,"y":6,"a":143,"m":5.8},{"x":-7,"y":6,"a":139,"m":7},{"x":-6,"y":6,"a":135,"m":8.2},{"x":-5,"y":6,"a":130,"m":9.4},{"x":-4,"y":6,"a":124,"m":11},{"x":-3,"y":6,"a":117,"m":12},{"x":-2,"y":6,"a":108,"m":12},{"x":-1,"y":6,"a":99,"m":13},{"x":0,"y":6,"a":90,"m":13},{"x":1,"y":6,"a":81,"m":13},{"x":2,"y":6,"a":72,"m":12},{"x":3,"y":6,"a":63,"m":12},{"x":4,"y":6,"a":56,"m":11},{"x":5,"y":6,"a":50,"m":9.4},{"x":6,"y":6,"a":45,"m":8.2},{"x":7,"y":6,"a":41,"m":7},{"x":8,"y":6,"a":37,"m":5.8},{"x":9,"y":6,"a":34,"m":4.7},{"x":10,"y":6,"a":31,"m":3.5},
{"x":-9,"y":7,"a":142,"m":3.9},{"x":-8,"y":7,"a":139,"m":5},{"x":-7,"y":7,"a":135,"m":6},{"x":-6,"y":7,"a":131,"m":7},{"x":-5,"y":7,"a":126,"m":8},{"x":-4,"y":7,"a":120,"m":8.9},{"x":-3,"y":7,"a":113,"m":9.8},{"x":-2,"y":7,"a":106,"m":10},{"x":-1,"y":7,"a":98,"m":11},{"x":0,"y":7,"a":90,"m":11},{"x":1,"y":7,"a":82,"m":11},{"x":2,"y":7,"a":74,"m":10},{"x":3,"y":7,"a":67,"m":9.8},{"x":4,"y":7,"a":60,"m":8.9},{"x":5,"y":7,"a":54,"m":8},{"x":6,"y":7,"a":49,"m":7},{"x":7,"y":7,"a":45,"m":6},{"x":8,"y":7,"a":41,"m":5},{"x":9,"y":7,"a":38,"m":3.9},
{"x":-8,"y":8,"a":135,"m":4},{"x":-7,"y":8,"a":131,"m":5},{"x":-6,"y":8,"a":127,"m":5.8},{"x":-5,"y":8,"a":122,"m":6.7},{"x":-4,"y":8,"a":117,"m":7.4},{"x":-3,"y":8,"a":111,"m":8.1},{"x":-2,"y":8,"a":104,"m":8.6},{"x":-1,"y":8,"a":97,"m":8.9},{"x":0,"y":8,"a":90,"m":9},{"x":1,"y":8,"a":83,"m":8.9},{"x":2,"y":8,"a":76,"m":8.6},{"x":3,"y":8,"a":69,"m":8.1},{"x":4,"y":8,"a":63,"m":7.4},{"x":5,"y":8,"a":58,"m":6.7},{"x":6,"y":8,"a":53,"m":5.8},{"x":7,"y":8,"a":49,"m":5},{"x":8,"y":8,"a":45,"m":4},
{"x":-7,"y":9,"a":128,"m":3.9},{"x":-6,"y":9,"a":124,"m":4.7},{"x":-5,"y":9,"a":119,"m":5.4},{"x":-4,"y":9,"a":114,"m":6},{"x":-3,"y":9,"a":108,"m":6.6},{"x":-2,"y":9,"a":103,"m":7},{"x":-1,"y":9,"a":96,"m":7.2},{"x":0,"y":9,"a":90,"m":7.3},{"x":1,"y":9,"a":84,"m":7.2},{"x":2,"y":9,"a":77,"m":7},{"x":3,"y":9,"a":72,"m":6.6},{"x":4,"y":9,"a":66,"m":6},{"x":5,"y":9,"a":61,"m":5.4},{"x":6,"y":9,"a":56,"m":4.7},{"x":7,"y":9,"a":52,"m":3.9},
{"x":-6,"y":10,"a":121,"m":3.5},{"x":-5,"y":10,"a":117,"m":4.2},{"x":-4,"y":10,"a":112,"m":4.8},{"x":-3,"y":10,"a":107,"m":5.2},{"x":-2,"y":10,"a":101,"m":5.5},{"x":-1,"y":10,"a":96,"m":5.7},{"x":0,"y":10,"a":90,"m":5.8},{"x":1,"y":10,"a":84,"m":5.7},{"x":2,"y":10,"a":79,"m":5.5},{"x":3,"y":10,"a":73,"m":5.2},{"x":4,"y":10,"a":68,"m":4.8},{"x":5,"y":10,"a":63,"m":4.2},{"x":6,"y":10,"a":59,"m":3.5},
{"x":-4,"y":11,"a":110,"m":3.5},{"x":-3,"y":11,"a":105,"m":3.9},{"x":-2,"y":11,"a":100,"m":4.2},{"x":-1,"y":11,"a":95,"m":4.4},{"x":0,"y":11,"a":90,"m":4.5},{"x":1,"y":11,"a":85,"m":4.4},{"x":2,"y":11,"a":80,"m":4.2},{"x":3,"y":11,"a":75,"m":3.9},{"x":4,"y":11,"a":70,"m":3.5},
{"x":0,"y":12,"a":90,"m":3}
]
},
"hconcat":[
{
"width":590,"height":575,
"title":{"text":"(a)","orient":"bottom","anchor":"middle","font":"Liberation Serif","fontSize":28,"fontWeight":"normal","color":"black","offset":13,"dx":-3},
"layer":[
{"data":{"name":"g"},"transform":[{"filter":"!isValid(datum.m)"}],
"mark":{"type":"point","shape":"M0,0L2,0M1.4,-0.2L2,0L1.4,0.2","filled":false,"color":"#474747","strokeWidth":1,"opacity":1,"size":420},
"encoding":{"x":{"field":"x","type":"quantitative","scale":{"domain":[-13.44,13.69],"nice":false,"zero":false},"axis":null},
"y":{"field":"y","type":"quantitative","scale":{"domain":[-12.39,14.05],"nice":false,"zero":false,"reverse":true},"axis":null},
"angle":{"field":"a","type":"quantitative","scale":null}}},
{"data":{"name":"g"},"transform":[{"filter":"isValid(datum.m)"}],
"mark":{"type":"point","shape":"M0,0L2,0M1.4,-0.2L2,0L1.4,0.2","filled":false,"color":"#474747","strokeWidth":1,"opacity":1},
"encoding":{"x":{"field":"x","type":"quantitative","scale":{"domain":[-13.44,13.69],"nice":false,"zero":false},"axis":null},
"y":{"field":"y","type":"quantitative","scale":{"domain":[-12.39,14.05],"nice":false,"zero":false,"reverse":true},"axis":null},
"angle":{"field":"a","type":"quantitative","scale":null},
"size":{"field":"m","type":"quantitative","scale":{"type":"pow","exponent":2,"domain":[0,20],"range":[0,420]},"legend":null}}},
{"data":{"values":[{"x":0,"y":0,"t":"Goal"}]},
"mark":{"type":"point","shape":"circle","filled":true,"color":"#69E3BF","stroke":"#2E3F78","strokeWidth":1,"opacity":1,"size":17060},
"encoding":{"x":{"field":"x","type":"quantitative","scale":{"domain":[-13.44,13.69],"nice":false,"zero":false},"axis":null},
"y":{"field":"y","type":"quantitative","scale":{"domain":[-12.39,14.05],"nice":false,"zero":false,"reverse":true},"axis":null}}},
{"data":{"values":[{"x":0,"y":0,"t":"Goal"}]},
"mark":{"type":"text","font":"Liberation Sans","fontSize":27,"color":"black","baseline":"middle","align":"center","dy":1},
"encoding":{"x":{"field":"x","type":"quantitative","scale":{"domain":[-13.44,13.69],"nice":false,"zero":false},"axis":null},
"y":{"field":"y","type":"quantitative","scale":{"domain":[-12.39,14.05],"nice":false,"zero":false,"reverse":true},"axis":null},
"text":{"field":"t"}}}
]
},
{
"width":549,"height":575,
"title":{"text":"(b)","orient":"bottom","anchor":"middle","font":"Liberation Serif","fontSize":28,"fontWeight":"normal","color":"black","offset":13,"dx":7},
"layer":[
{"data":{"name":"o"},
"mark":{"type":"point","shape":"M0,0L2,0M1.4,-0.2L2,0L1.4,0.2","filled":false,"color":"#303030","strokeWidth":1.1,"opacity":1},
"encoding":{"x":{"field":"x","type":"quantitative","scale":{"domain":[-12.925,12.087],"nice":false,"zero":false},"axis":null},
"y":{"field":"y","type":"quantitative","scale":{"domain":[-13.134,13.062],"nice":false,"zero":false,"reverse":true},"axis":null},
"angle":{"field":"a","type":"quantitative","scale":null},
"size":{"field":"m","type":"quantitative","scale":{"type":"pow","exponent":2,"domain":[0,29],"range":[0,1112]},"legend":null}}},
{"data":{"values":[{"x":0,"y":0,"t":"Obs"}]},
"mark":{"type":"point","shape":"circle","filled":true,"color":"#A9572B","stroke":"#4A2448","strokeWidth":1,"opacity":1,"size":7640},
"encoding":{"x":{"field":"x","type":"quantitative","scale":{"domain":[-12.925,12.087],"nice":false,"zero":false},"axis":null},
"y":{"field":"y","type":"quantitative","scale":{"domain":[-13.134,13.062],"nice":false,"zero":false,"reverse":true},"axis":null}}},
{"data":{"values":[{"x":0,"y":0,"t":"Obs"}]},
"mark":{"type":"text","font":"Liberation Sans","fontSize":26,"color":"white","baseline":"middle","align":"center","dy":0},
"encoding":{"x":{"field":"x","type":"quantitative","scale":{"domain":[-12.925,12.087],"nice":false,"zero":false},"axis":null},
"y":{"field":"y","type":"quantitative","scale":{"domain":[-13.134,13.062],"nice":false,"zero":false,"reverse":true},"axis":null},
"text":{"field":"t"}}}
]
}
]
}
